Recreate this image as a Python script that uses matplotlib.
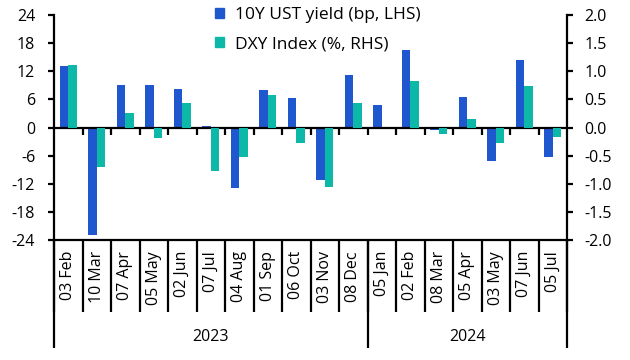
import matplotlib
matplotlib.use("Agg")
import matplotlib.pyplot as plt
import matplotlib.transforms as mtransforms
from matplotlib.patches import Patch
import numpy as np

# ---- data ----
dates = ["03 Feb", "10 Mar", "07 Apr", "05 May", "02 Jun", "07 Jul", "04 Aug",
         "01 Sep", "06 Oct", "03 Nov", "08 Dec",
         "05 Jan", "02 Feb", "08 Mar", "05 Apr", "03 May", "07 Jun", "05 Jul"]
years = ["2023"] * 11 + ["2024"] * 7
ust_bp = [13.2, -23.0, 9.1, 9.1, 8.3, 0.4, -12.8, 7.9, 6.4, -11.3, 11.3,
          4.9, 16.6, -0.5, 6.6, -7.2, 14.5, -6.2]
dxy_pct = [1.12, -0.71, 0.25, -0.19, 0.43, -0.78, -0.53, 0.57, -0.28, -1.05, 0.43,
           0.0, 0.83, -0.12, 0.16, -0.27, 0.73, -0.16]
left_ticks = [24, 18, 12, 6, 0, -6, -12, -18, -24]
right_ticks = [2.0, 1.5, 1.0, 0.5, 0.0, -0.5, -1.0, -1.5, -2.0]
labels = ["10Y UST yield (bp, LHS)", "DXY Index (%, RHS)"]

BLUE = "#1F58CE"
TEAL = "#0DB8A8"
FS = 11.5

plt.rcParams['font.family'] = ['Open Sans', 'DejaVu Sans']
plt.rcParams['axes.unicode_minus'] = False

fig = plt.figure(figsize=(6.3, 3.6), dpi=100)
ax = fig.add_axes([54 / 630, 1 - 240 / 360, (567 - 54) / 630, 225 / 360])
ax2 = ax.twinx()

n = len(dates)
x = np.arange(n)
w = 0.29
ax.bar(x - w / 2, ust_bp, w, color=BLUE, zorder=3)
ax2.bar(x + w / 2, dxy_pct, w, color=TEAL, zorder=3)

ax.set_xlim(-0.5, n - 0.5)
ax.set_ylim(-24, 24)
ax2.set_ylim(-2, 2)
ax.set_yticks(left_ticks)
ax.set_yticklabels([str(v) for v in left_ticks])
ax2.set_yticks(right_ticks)
ax2.set_yticklabels([f"{v:.1f}" for v in right_ticks])

for a in (ax, ax2):
    a.spines['top'].set_visible(False)
    for s in a.spines.values():
        s.set_linewidth(1.6)
ax2.spines['left'].set_visible(False)
ax2.spines['bottom'].set_visible(False)
ax.spines['right'].set_visible(False)

ax.tick_params(axis='y', direction='out', length=4.5, width=1.6, labelsize=FS, pad=9)
ax2.tick_params(axis='y', direction='out', length=4.5, width=1.6, labelsize=FS, pad=8)

# x categories
ax.set_xticks(x)
ax.set_xticklabels(dates, rotation=90, fontsize=FS)
ax.tick_params(axis='x', which='major', length=0, pad=8)
bounds = np.arange(n + 1) - 0.5
ax.set_xticks(bounds, minor=True)
ax.tick_params(axis='x', which='minor', length=52, width=1.6, direction='out')

# zero line with small ticks
ax.axhline(0, color='black', lw=1.6, zorder=4)
ax.vlines(bounds[1:-1], -1.5, 0, color='black', lw=1.6, zorder=4)

# year groups
trans = mtransforms.blended_transform_factory(ax.transData, ax.transAxes)
uniq = []
for y in years:
    if y not in uniq:
        uniq.append(y)
edges = [-0.5]
for y in uniq:
    idx = [i for i, v in enumerate(years) if v == y]
    edges.append(idx[-1] + 0.5)
    ax.text((idx[0] + idx[-1]) / 2, -0.43, y, transform=trans, ha='center',
            va='center', fontsize=FS)
for e in edges:
    ax.plot([e, e], [0, -0.48], transform=trans, color='black', lw=1.6,
            clip_on=False, solid_capstyle='butt')

handles = [Patch(color=BLUE), Patch(color=TEAL)]
fig.legend(handles, labels, loc='upper left', bbox_to_anchor=(215 / 630, 1 - 7 / 360),
           frameon=False, fontsize=12.5, handlelength=0.5, handleheight=0.5,
           handletextpad=0.65, labelspacing=0.78, borderpad=0, borderaxespad=0)

fig.savefig("out.png", dpi=100)
